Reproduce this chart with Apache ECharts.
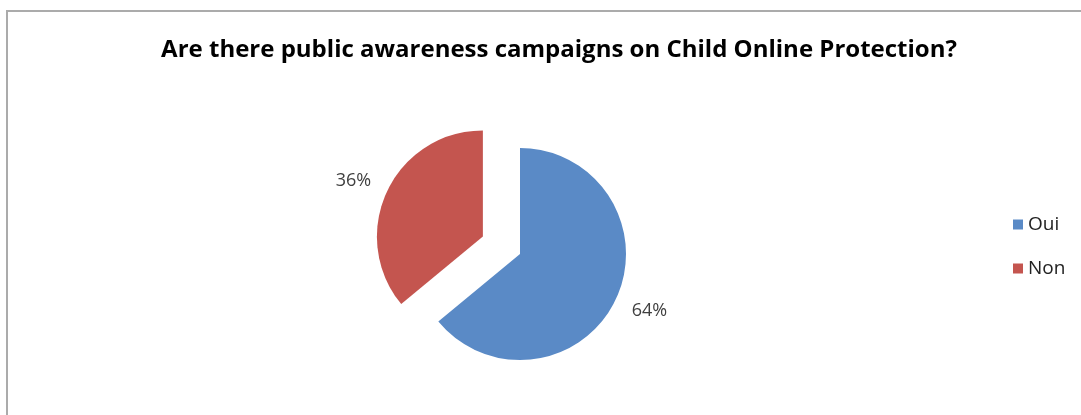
<!DOCTYPE html>
<html>
<head>
<meta charset="utf-8">
<script src="https://cdn.jsdelivr.net/npm/echarts@6/dist/echarts.min.js"></script>
<style>
html,body{margin:0;padding:0;background:#fff;}
#chart{width:1081px;height:415px;}
</style>
</head>
<body>
<div id="chart"></div>
<script>
const titleText = 'Are there public awareness campaigns on Child Online Protection?';
const categories = ['Oui', 'Non'];
const values = [64, 36];
const colors = ['#5A8AC6', '#C4554F'];

const labelPads = [[14, 0, 0, 0], [0, 0, 10, 0]];

const chart = echarts.init(document.getElementById('chart'), null, {renderer: 'canvas'});
chart.setOption({
  animation: false,
  backgroundColor: '#ffffff',
  title: {
    text: titleText,
    left: 554,
    textAlign: 'center',
    top: 33,
    textStyle: {fontFamily: 'Open Sans', fontWeight: 'bold', fontSize: 24, color: '#000'}
  },
  graphic: [{
    type: 'rect',
    shape: {x: 7, y: 11, width: 1200, height: 600},
    style: {fill: 'none', stroke: '#ababab', lineWidth: 2},
    silent: true
  }],
  legend: {
    orient: 'vertical',
    left: 1008,
    top: 210,
    itemWidth: 10,
    itemHeight: 10,
    itemGap: 25,
    icon: 'rect',
    textStyle: {fontFamily: 'Open Sans', fontSize: 19, color: '#222'},
    data: categories
  },
  series: [{
    type: 'pie',
    center: [520, 254],
    radius: 106,
    startAngle: 90,
    clockwise: true,
    selectedMode: 'multiple',
    selectedOffset: 41,
    label: {
      show: true,
      position: 'outside',
      formatter: '{p|{d}%}',
      fontFamily: 'Open Sans',
      fontSize: 18,
      color: '#404040'
    },
    labelLine: {show: false, length: 12, length2: 0},
    emphasis: {disabled: true},
    data: categories.map((c, i) => ({
      name: c,
      value: values[i],
      selected: c === 'Non',
      itemStyle: {color: colors[i]},
      label: {rich: {p: {fontFamily: 'Open Sans', fontSize: 18, color: '#404040', padding: labelPads[i]}}}
    }))
  }]
});
</script>
</body>
</html>
